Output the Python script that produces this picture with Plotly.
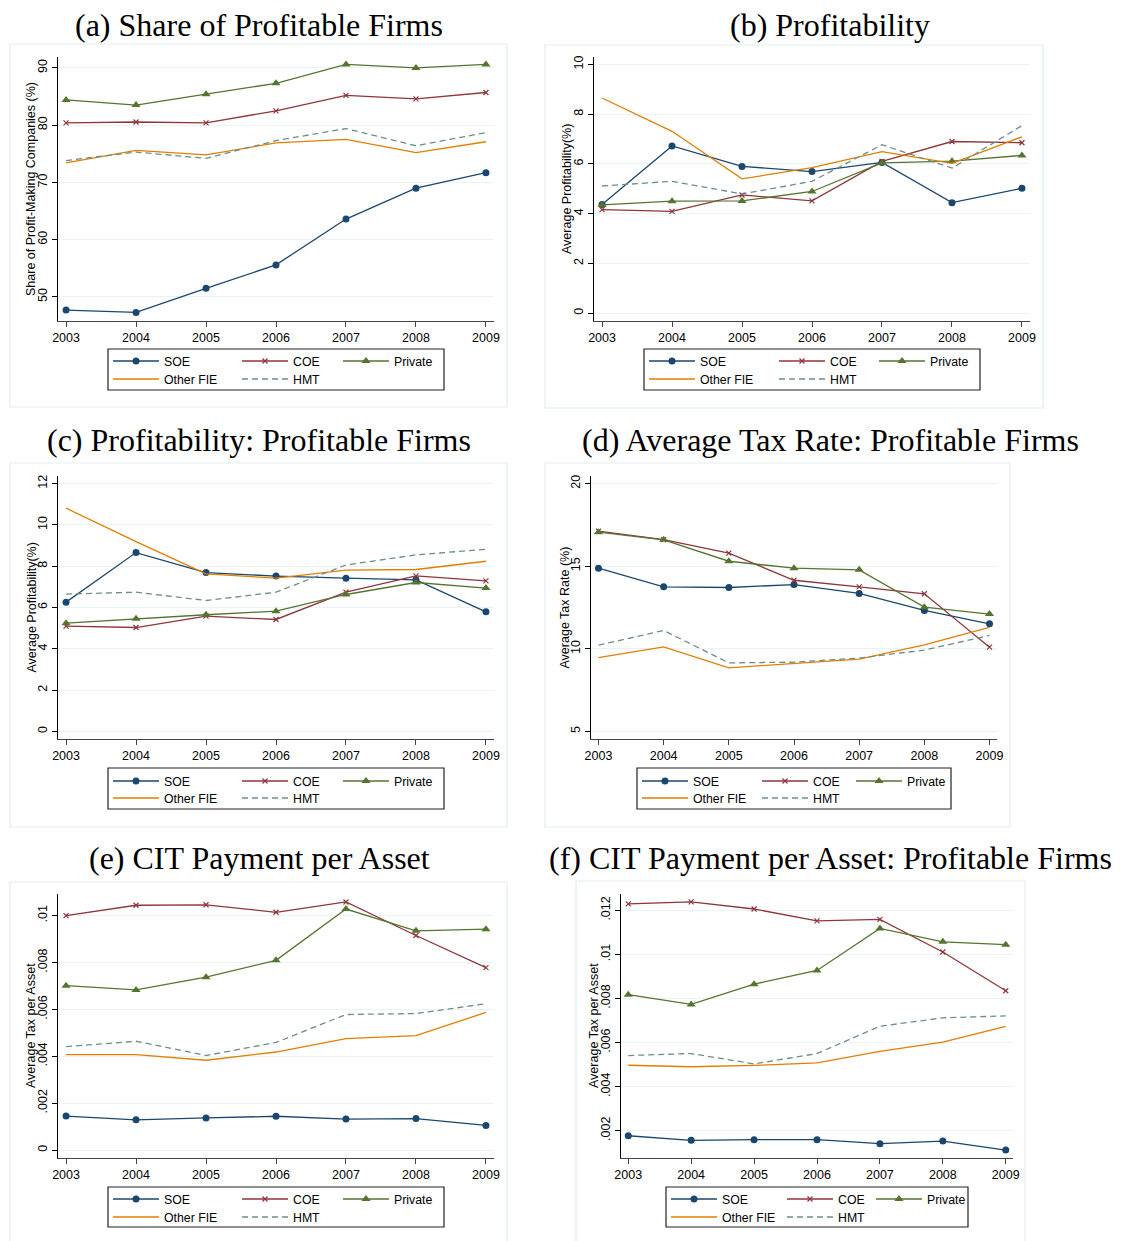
import plotly.graph_objects as go

# page body has an 8px margin: figure is sized/offset so that it fills the window
OFF = 8
W, H = 1123 - OFF, 1241 - OFF

years = [2003, 2004, 2005, 2006, 2007, 2008, 2009]
series_names = ["SOE", "COE", "Private", "Other FIE", "HMT"]

# (a) Share of profitable firms (%)
a_soe = [47.7, 47.3, 51.5, 55.6, 63.6, 69.0, 71.7]
a_coe = [80.4, 80.55, 80.4, 82.5, 85.2, 84.6, 85.7]
a_private = [84.4, 83.5, 85.4, 87.3, 90.6, 90.0, 90.6]
a_otherfie = [73.4, 75.6, 74.8, 76.9, 77.5, 75.2, 77.1]
a_hmt = [73.8, 75.3, 74.2, 77.3, 79.4, 76.4, 78.7]

# (b) Profitability (%)
b_soe = [4.37, 6.72, 5.90, 5.69, 6.06, 4.44, 5.02]
b_coe = [4.16, 4.09, 4.75, 4.51, 6.10, 6.90, 6.85]
b_private = [4.35, 4.50, 4.51, 4.89, 6.04, 6.11, 6.34]
b_otherfie = [8.65, 7.31, 5.40, 5.85, 6.49, 6.02, 7.09]
b_hmt = [5.11, 5.30, 4.79, 5.30, 6.77, 5.83, 7.54]

# (c) Profitability: profitable firms (%)
c_soe = [6.26, 8.66, 7.69, 7.52, 7.42, 7.34, 5.79]
c_coe = [5.10, 5.03, 5.58, 5.42, 6.74, 7.53, 7.29]
c_private = [5.24, 5.45, 5.65, 5.82, 6.63, 7.21, 6.94]
c_otherfie = [10.81, 9.19, 7.63, 7.42, 7.81, 7.84, 8.24]
c_hmt = [6.65, 6.74, 6.34, 6.74, 8.06, 8.55, 8.82]

# (d) Average tax rate: profitable firms (%)
d_soe = [14.88, 13.75, 13.71, 13.89, 13.35, 12.32, 11.51]
d_coe = [17.12, 16.61, 15.79, 14.15, 13.75, 13.33, 10.10]
d_private = [17.06, 16.60, 15.30, 14.88, 14.78, 12.52, 12.10]
d_otherfie = [9.46, 10.12, 8.85, 9.13, 9.38, 10.24, 11.29]
d_hmt = [10.22, 11.11, 9.15, 9.19, 9.44, 9.92, 10.81]

# (e) CIT payment per asset
e_soe = [0.00145, 0.00129, 0.00137, 0.00144, 0.00132, 0.00134, 0.00105]
e_coe = [0.01000, 0.01044, 0.01046, 0.01014, 0.01058, 0.00915, 0.00778]
e_private = [0.00701, 0.00683, 0.00737, 0.00809, 0.01028, 0.00935, 0.00942]
e_otherfie = [0.00407, 0.00407, 0.00383, 0.00418, 0.00475, 0.00488, 0.00587]
e_hmt = [0.00441, 0.00464, 0.00403, 0.00459, 0.00578, 0.00582, 0.00624]

# (f) CIT payment per asset: profitable firms
f_soe = [0.00177, 0.00156, 0.00159, 0.00159, 0.00141, 0.00153, 0.00112]
f_coe = [0.01229, 0.01238, 0.01206, 0.01152, 0.01159, 0.01011, 0.00835]
f_private = [0.00817, 0.00773, 0.00865, 0.00927, 0.01118, 0.01057, 0.01044]
f_otherfie = [0.00497, 0.00490, 0.00496, 0.00508, 0.00560, 0.00602, 0.00673]
f_hmt = [0.00541, 0.00550, 0.00503, 0.00550, 0.00674, 0.00712, 0.00721]

panel_titles = ["(a) Share of Profitable Firms", "(b) Profitability",
                "(c) Profitability: Profitable Firms",
                "(d) Average Tax Rate: Profitable Firms",
                "(e) CIT Payment per Asset",
                "(f) CIT Payment per Asset: Profitable Firms"]
y_titles = ["Share of Profit-Making Companies (%)", "Average Profitability(%)",
            "Average Profitability(%)", "Average Tax Rate (%)",
            "Average Tax per Asset", "Average Tax per Asset"]

a_ticks = [50, 60, 70, 80, 90]
b_ticks = [0, 2, 4, 6, 8, 10]
c_ticks = [0, 2, 4, 6, 8, 10, 12]
d_ticks = [5, 10, 15, 20]
e_ticks = [0, 0.002, 0.004, 0.006, 0.008, 0.01]
e_ticktext = ["0", ".002", ".004", ".006", ".008", ".01"]
f_ticks = [0.002, 0.004, 0.006, 0.008, 0.01, 0.012]
f_ticktext = [".002", ".004", ".006", ".008", ".01", ".012"]

panel_data = [
    [a_soe, a_coe, a_private, a_otherfie, a_hmt],
    [b_soe, b_coe, b_private, b_otherfie, b_hmt],
    [c_soe, c_coe, c_private, c_otherfie, c_hmt],
    [d_soe, d_coe, d_private, d_otherfie, d_hmt],
    [e_soe, e_coe, e_private, e_otherfie, e_hmt],
    [f_soe, f_coe, f_private, f_otherfie, f_hmt],
]
panel_ticks = [
    (a_ticks, [str(v) for v in a_ticks]),
    (b_ticks, [str(v) for v in b_ticks]),
    (c_ticks, [str(v) for v in c_ticks]),
    (d_ticks, [str(v) for v in d_ticks]),
    (e_ticks, e_ticktext),
    (f_ticks, f_ticktext),
]
y_ranges = [[45.8, 91.9], [-0.32, 10.3], [-0.37, 12.37], [4.54, 20.46],
            [-0.00034, 0.01092], [0.00076, 0.01274]]

# ---- styling / layout geometry (pixels in the target picture) ----
colors = ["#1a476f", "#90353b", "#55752f", "#e37e00", "#6e8e84"]
markers = [dict(symbol="circle", size=7),
           dict(symbol="x-thin", size=5, line=dict(width=1.2, color=colors[1])),
           dict(symbol="triangle-up", size=8),
           None, None]
dashes = ["solid", "solid", "solid", "solid", "6px,4px"]

# plot areas: x0, x1, y0(top), y1(bottom)
plot_px = [(58, 494, 57, 321), (594, 1030, 57, 321),
           (58, 494, 476, 739), (591, 997, 476, 739),
           (58, 494, 894, 1158), (621, 1013, 894, 1158)]
frame_px = [(10, 507, 44, 407), (545, 1043, 45, 408),
            (10, 507, 463, 827), (545, 1010, 463, 827),
            (10, 507, 882, 1245), (576, 1025, 881, 1245)]
legbox_px = [(108, 444, 349, 390), (644, 980, 349, 390),
             (108, 444, 768, 809), (637, 951, 768, 809),
             (108, 444, 1187, 1227), (666, 968, 1187, 1227)]
leg_col_off = [(5, 134, 235), (5, 135, 235), (5, 134, 235),
               (5, 125, 219), (5, 134, 235), (5, 121, 210)]
leg_rows = [(361, 379), (361, 379), (781, 798), (781, 798), (1199, 1217), (1199, 1217)]
title_pos = [(259, 25), (830, 25), (259, 440), (830, 440), (259, 858), (830, 858)]


def px_x(v):
    return (v - OFF) / W


def px_y(v):
    return 1 - (v - OFF) / H


fig = go.Figure()
layout = dict(width=W, height=H,
              margin=dict(l=0, r=0, t=0, b=0, pad=0, autoexpand=False),
              paper_bgcolor="white", plot_bgcolor="white",
              showlegend=True, shapes=[], annotations=[])

sans = "Liberation Sans, Arial"
tick_font = dict(family=sans, size=12.5, color="black")
leg_index = 0
for p in range(6):
    ax = "" if p == 0 else str(p + 1)
    x0, x1, y0, y1 = plot_px[p]
    layout["xaxis" + ax] = dict(
        domain=[px_x(x0), px_x(x1)], range=[2002.885, 2009.115],
        anchor="y" + ax, tickvals=years, ticktext=[str(y) for y in years],
        ticks="outside", ticklen=5, tickcolor="#444", showline=True,
        linecolor="#444", linewidth=1, showgrid=False, zeroline=False,
        tickfont=tick_font, fixedrange=True, automargin=False)
    tv, tt = panel_ticks[p]
    layout["yaxis" + ax] = dict(
        domain=[px_y(y1), px_y(y0)], range=y_ranges[p], anchor="x" + ax,
        tickvals=tv, ticktext=tt, tickangle=-90, ticks="outside", ticklen=5,
        tickcolor="black", showline=True, linecolor="black", linewidth=1,
        showgrid=True, gridcolor="#eaf2f3", gridwidth=1, zeroline=False,
        tickfont=tick_font, automargin=False, fixedrange=True)

    # y-axis title (rotated text), centred on the plot area
    layout["annotations"].append(dict(text=y_titles[p], xref="paper", yref="paper",
                                      x=px_x(x0 - 27), y=px_y((y0 + y1) / 2),
                                      xanchor="center", yanchor="middle", textangle=-90,
                                      showarrow=False,
                                      font=dict(family=sans, size=12.5, color="black")))

    # frame
    fx0, fx1, fy0, fy1 = frame_px[p]
    layout["shapes"].append(dict(type="rect", xref="paper", yref="paper",
                                 x0=px_x(fx0), x1=px_x(fx1), y0=px_y(fy1), y1=px_y(fy0),
                                 line=dict(color="#e3edf0", width=1.2), layer="below"))
    # legend box
    lx0, lx1, ly0, ly1 = legbox_px[p]
    layout["shapes"].append(dict(type="rect", xref="paper", yref="paper",
                                 x0=px_x(lx0), x1=px_x(lx1), y0=px_y(ly1), y1=px_y(ly0),
                                 line=dict(color="#222", width=1.2)))
    # panel title
    tx, ty = title_pos[p]
    layout["annotations"].append(dict(text=panel_titles[p], xref="paper", yref="paper",
                                      x=px_x(tx), y=px_y(ty), xanchor="center", yanchor="middle",
                                      showarrow=False,
                                      font=dict(family="Liberation Serif, Times New Roman",
                                                size=32, color="black")))

    for s in range(5):
        leg_index += 1
        lname = "legend" if leg_index == 1 else "legend" + str(leg_index)
        col = [0, 1, 2, 0, 1][s]
        row = [0, 0, 0, 1, 1][s]
        lx = lx0 + leg_col_off[p][col] - 5
        ly = leg_rows[p][row]
        layout[lname] = dict(x=px_x(lx), y=px_y(ly), xanchor="left", yanchor="middle",
                             xref="paper", yref="paper", bgcolor="rgba(0,0,0,0)",
                             borderwidth=0, itemwidth=46,
                             font=dict(family=sans, size=12.3, color="black"))
        tr = dict(x=years, y=panel_data[p][s], name=series_names[s],
                  xaxis="x" + ax, yaxis="y" + ax, legend=lname,
                  line=dict(color=colors[s], width=1.3, dash=dashes[s]),
                  showlegend=True)
        if markers[s] is not None:
            m = dict(markers[s])
            m["color"] = colors[s]
            tr["marker"] = m
            tr["mode"] = "lines+markers"
        else:
            tr["mode"] = "lines"
        fig.add_trace(go.Scatter(**tr))

fig.update_layout(**layout)
fig.write_html("out.html")
